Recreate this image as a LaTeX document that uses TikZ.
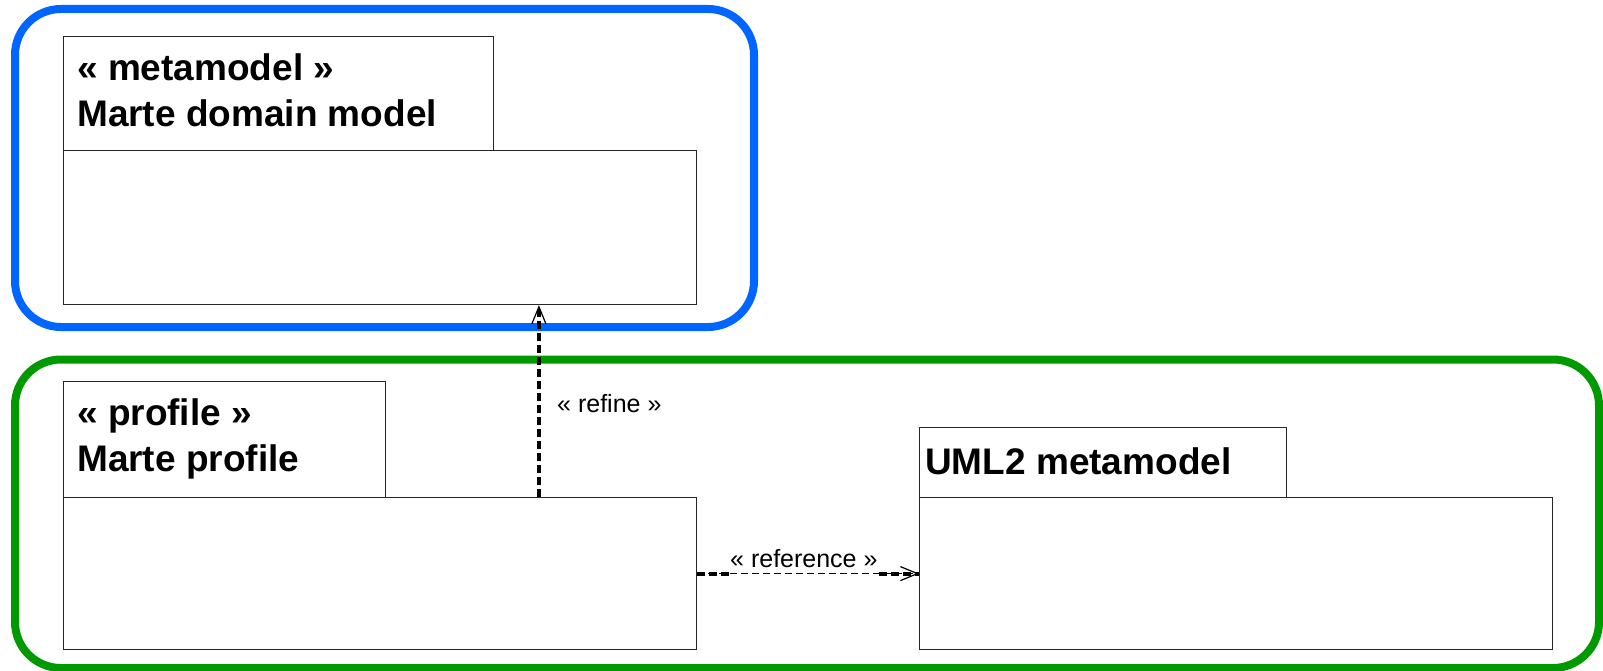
\documentclass[tikz,border=0pt]{standalone}
\usepackage{fontspec}
\setmainfont{Liberation Sans}
\usetikzlibrary{arrows.meta,calc}
\definecolor{frameblue}{RGB}{0,102,255}
\definecolor{framegreen}{RGB}{0,153,0}
\begin{document}
\begin{tikzpicture}[x=1pt,y=-1pt,
  frame/.style={line width=8pt,rounded corners=46pt},
  pkgpart/.style={draw=black!85,line width=1.2pt,fill=white,inner sep=0pt,anchor=north west},
  pkgtitle/.style={inner sep=0pt,anchor=base west,font=\fontsize{37}{44}\selectfont\bfseries},
  deplabel/.style={inner sep=0pt,anchor=base west,font=\fontsize{25}{30}\selectfont},
  opentip/.style={-{Straight Barb[length=17pt,width=14pt,line width=1.2pt]}},
  thickdash/.style={line width=4pt,dash pattern=on 8pt off 4pt},
  thindash/.style={line width=1.3pt,dash pattern=on 7pt off 4pt}
]
\useasboundingbox (0,0) rectangle (1603,671);

% grouping frames
\draw[frame,frameblue] (15,9) rectangle (754,327);
\draw[frame,framegreen] (15,359.5) rectangle (1599,668);

% Marte domain model package
\node[pkgpart,minimum width=430pt,minimum height=114pt] (mmTab) at (63,36) {};
\node[pkgpart,minimum width=633pt,minimum height=154pt] (mmBody) at (63,150) {};
\node[pkgtitle] (mmStereo) at (77,81) {« metamodel »};
\node[pkgtitle] (mmName) at (77,127) {Marte domain model};

% Marte profile package
\node[pkgpart,minimum width=322pt,minimum height=116pt] (pfTab) at (63,381) {};
\node[pkgpart,minimum width=633pt,minimum height=152pt] (pfBody) at (63,497) {};
\node[pkgtitle] (pfStereo) at (77,425) {« profile »};
\node[pkgtitle] (pfName) at (77,471) {Marte profile};

% UML2 metamodel package
\node[pkgpart,minimum width=367pt,minimum height=70pt] (umlTab) at (919,427) {};
\node[pkgpart,minimum width=633pt,minimum height=152pt] (umlBody) at (919,497) {};
\node[pkgtitle] (umlName) at (925,474) {UML2 metamodel};

% refine dependency
\coordinate (rfFoot) at ($(pfBody.north west)!0.7504!(pfBody.north east)$);
\coordinate (rfHead) at ($(mmBody.south west)!0.7504!(mmBody.south east)$);
\draw[thickdash,opentip] (rfFoot) -- (rfHead);
\node[deplabel] (rfLabel) at (557,412) {« refine »};

% reference dependency
\draw[thindash,opentip] (pfBody.east) -- (umlBody.west);
\draw[thickdash] (pfBody.east) -- ($(pfBody.east)+(32,0)$);
\draw[thickdash] ($(umlBody.west)+(-40,0)$) -- (umlBody.west);
\node[deplabel] (refLabel) at (730,567) {« reference »};
\end{tikzpicture}
\end{document}
